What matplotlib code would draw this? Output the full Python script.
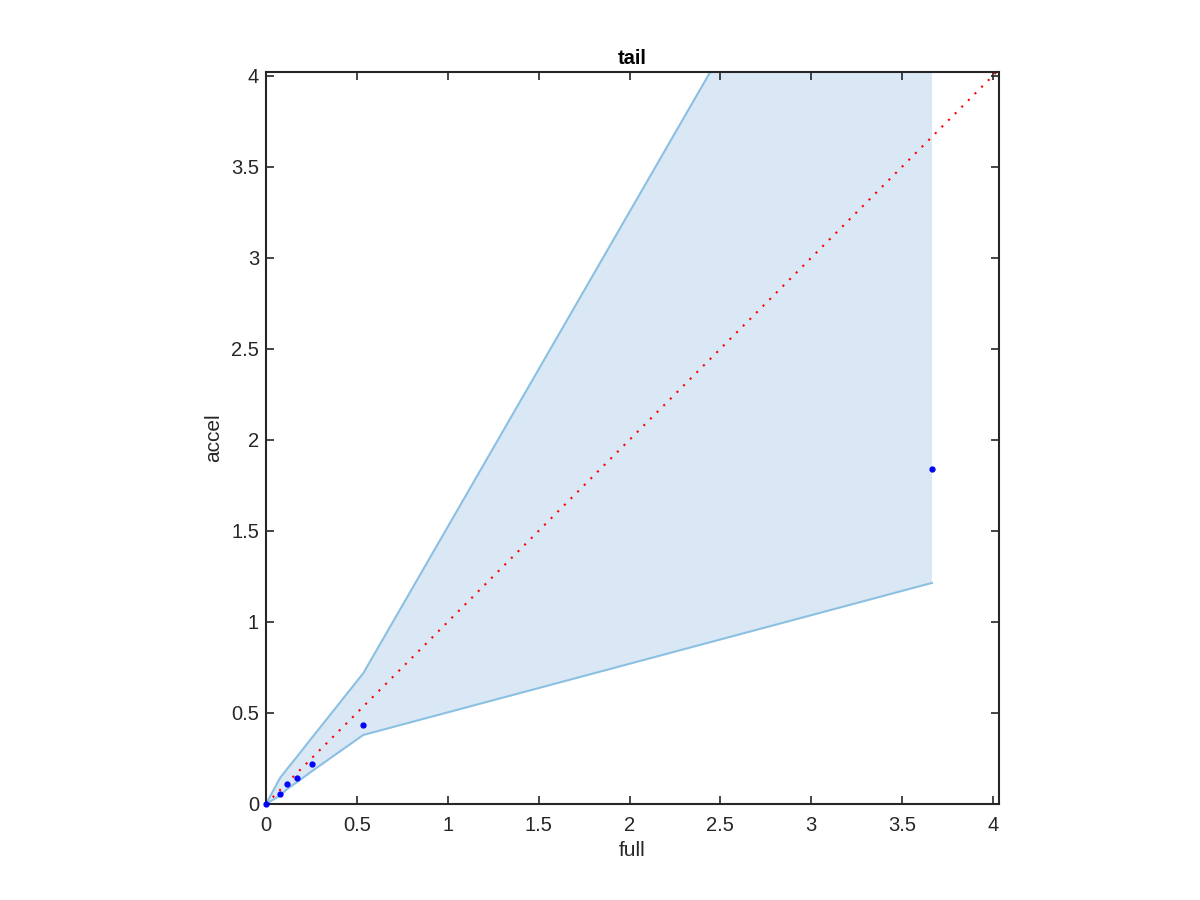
import matplotlib
matplotlib.use('Agg')
import matplotlib.pyplot as plt
import numpy as np

plt.rcParams['font.family'] = ['Liberation Sans', 'DejaVu Sans']

# data
full = [0.0, 0.077, 0.114, 0.172, 0.251, 0.535, 3.664]
accel = [0.0, 0.057, 0.112, 0.141, 0.218, 0.432, 1.84]
band_lo = [0.0, 0.046, 0.080, 0.121, 0.179, 0.379, 1.214]
band_hi = [0.0, 0.143, 0.190, 0.262, 0.362, 0.718, 6.13]
diag = [0.0, 4.03]

ticks = [0, 0.5, 1, 1.5, 2, 2.5, 3, 3.5, 4]
tick_labels = ['0', '0.5', '1', '1.5', '2', '2.5', '3', '3.5', '4']

fill_col = '#d9e8f4'
edge_col = '#8cc0e2'
ax_col = '#262626'

fig = plt.figure(figsize=(12, 9), dpi=100)
ax = fig.add_axes([0.2217, 0.1067, 0.6108, 0.8133])

ax.fill_between(full, band_lo, band_hi, color=fill_col, linewidth=0)
ax.plot(full, band_lo, color=edge_col, lw=1.5)
ax.plot(full, band_hi, color=edge_col, lw=1.5)
ax.plot(diag, diag, color='red', lw=1.5, linestyle=(0, (1, 3.5)))
ax.plot(full, accel, 'o', color='blue', markersize=3.5, linestyle='none',
        clip_on=False, zorder=5)

ax.set_xlim(0, 4.033)
ax.set_ylim(0, 4.02)
ax.set_xticks(ticks)
ax.set_xticklabels(tick_labels)
ax.set_yticks(ticks)
ax.set_yticklabels(tick_labels)

ax.tick_params(direction='in', length=6, width=1.2, colors=ax_col, labelsize=14.5,
               top=True, right=True, pad=5)
ax.tick_params(axis='x', pad=9)
for s in ax.spines.values():
    s.set_color(ax_col)
    s.set_linewidth(1.5)

ax.set_xlabel('full', fontsize=15, color=ax_col, labelpad=4)
ax.set_ylabel('accel', fontsize=15, color=ax_col, labelpad=6)
ax.set_title('tail', fontsize=14.5, fontweight='bold', pad=6)

fig.savefig('out.png', dpi=100)
